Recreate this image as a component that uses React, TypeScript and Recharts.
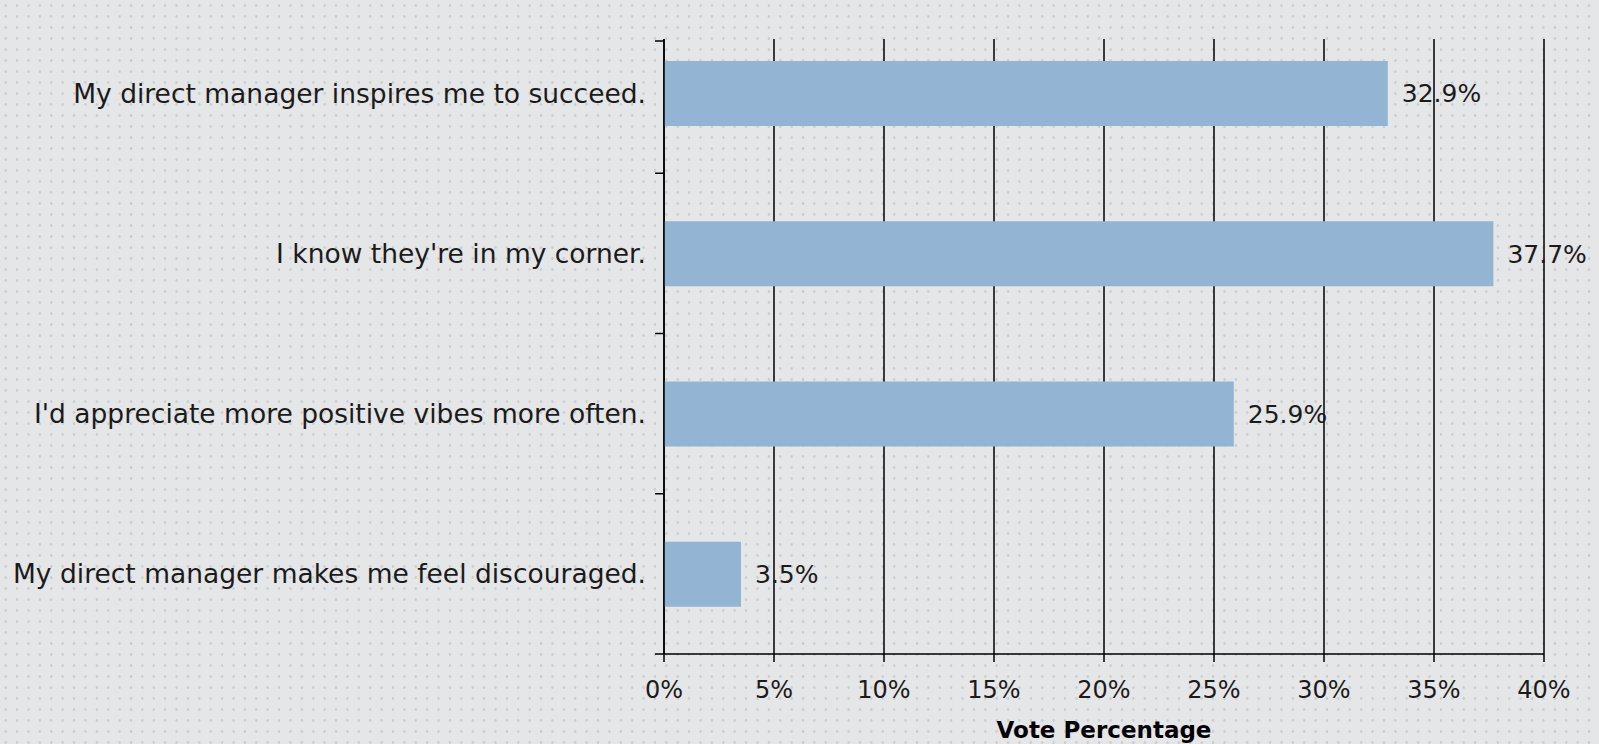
import { BarChart, Bar, XAxis, YAxis, CartesianGrid, LabelList } from 'recharts'

const statements = [
  'My direct manager inspires me to succeed.',
  "I know they're in my corner.",
  "I'd appreciate more positive vibes more often.",
  'My direct manager makes me feel discouraged.',
]
const votePercent = [32.9, 37.7, 25.9, 3.5]
const percentTicks = [0, 5, 10, 15, 20, 25, 30, 35, 40]

const data = statements.map((statement, i) => ({ statement, vote: votePercent[i] }))

const FONT = '"Century Gothic", "DejaVu Sans", sans-serif'
const INK = '#1b1b1b'
const PLOT_TOP = 39

function CategoryTick(props: any) {
  const { x, y, payload, index } = props
  const half = payload.offset ?? 0
  const axisX = x + 18
  return (
    <g>
      {index === 0 && (
        <line x1={axisX - 9} x2={axisX} y1={PLOT_TOP + 2} y2={PLOT_TOP + 2} stroke="#000" strokeWidth={1.5} />
      )}
      <line x1={axisX - 9} x2={axisX} y1={y + half} y2={y + half} stroke="#000" strokeWidth={1.5} />
      <text x={x} y={y} dy="0.36em" textAnchor="end" fill={INK} fontSize={26.5} fontFamily={FONT}>
        {payload.value}
      </text>
    </g>
  )
}

export default function App() {
  return (
    <div
      style={{
        position: 'absolute',
        left: 0,
        top: 0,
        width: 1599,
        height: 744,
        backgroundColor: '#e5e6e8',
        backgroundImage: 'radial-gradient(circle, #cbccce 1px, transparent 1.6px)',
        backgroundSize: '11.4px 11px',
      }}
    >
      <BarChart
        width={1599}
        height={744}
        data={data}
        layout="vertical"
        margin={{ top: PLOT_TOP, right: 55, left: 0, bottom: 0 }}
        barCategoryGap={0}
      >
        <CartesianGrid horizontal={false} stroke="#000" strokeWidth={1.5} />
        <XAxis
          type="number"
          domain={[0, 40]}
          ticks={percentTicks}
          interval={0}
          tickFormatter={(v) => `${v}%`}
          height={90}
          tickSize={8}
          tickMargin={19}
          axisLine={{ stroke: '#000', strokeWidth: 1.5 }}
          tickLine={{ stroke: '#000', strokeWidth: 1.5 }}
          tick={{ fill: INK, fontSize: 24, fontFamily: FONT }}
          label={({ viewBox }: any) => (
            <text
              x={viewBox.x + viewBox.width / 2}
              y={viewBox.y + 84}
              textAnchor="middle"
              fill="#000"
              fontSize={23}
              fontWeight="bold"
              fontFamily={FONT}
            >
              Vote Percentage
            </text>
          )}
        />
        <YAxis
          type="category"
          dataKey="statement"
          width={664}
          padding={{ top: -26, bottom: 0 }}
          axisLine={{ stroke: '#000', strokeWidth: 1.5 }}
          tickLine={false}
          tickSize={0}
          tick={<CategoryTick />}
          tickMargin={18}
          interval={0}
        />
        <Bar dataKey="vote" fill="#93b4d3" barSize={65} isAnimationActive={false}>
          <LabelList
            dataKey="vote"
            position="right"
            offset={14}
            formatter={(v: any) => `${v}%`}
            fill={INK}
            fontSize={25}
            fontFamily={FONT}
          />
        </Bar>
      </BarChart>
    </div>
  )
}
